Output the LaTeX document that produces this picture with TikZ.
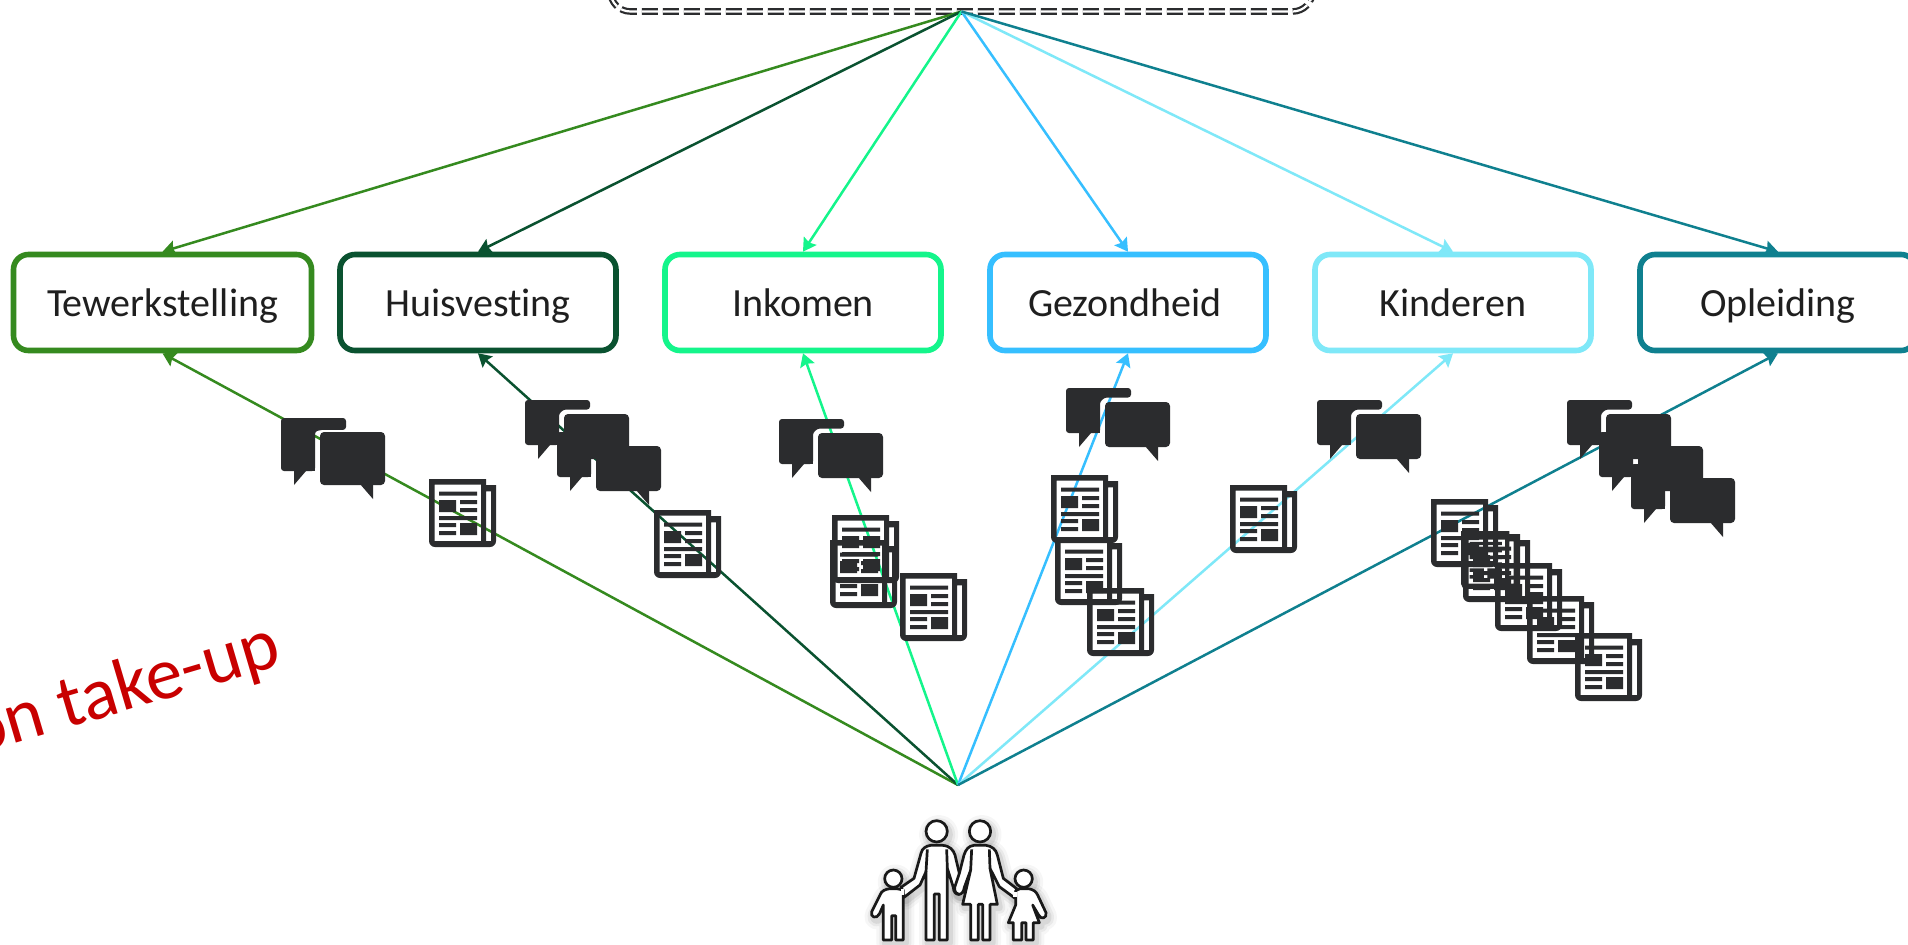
\documentclass[tikz,border=0pt]{standalone}
\usepackage{fontspec}
\setmainfont[Ligatures=NoCommon]{Carlito}
\usetikzlibrary{arrows.meta}
\definecolor{ink}{HTML}{2B2C2E}
\definecolor{cTew}{HTML}{358A1F}
\definecolor{cHuis}{HTML}{0A5230}
\definecolor{cInk}{HTML}{14F58B}
\definecolor{cGez}{HTML}{36BFFF}
\definecolor{cKind}{HTML}{7FE8F8}
\definecolor{cOpl}{HTML}{0F808F}
\definecolor{cRed}{HTML}{C80000}
\tikzset{
  topicbox/.style={draw=#1,line width=2.8pt,rounded corners=7.5pt,fill=white,minimum height=48pt,
    minimum width=138pt,inner sep=0pt,text=black!88,font=\fontsize{20}{24}\selectfont,
    text height=16pt,text depth=2.5pt},
  topline/.style={draw=#1,line width=1.25pt,-{Stealth[length=6.5pt,width=7.5pt,inset=1pt]}},
}
% pair of speech bubbles; the left one has a notch round the right one
\newcommand{\bubblepair}[3]{%
  \begin{scope}[shift={(#1,#2)}]
    \fill[ink,rounded corners=1.5pt] (0,0) -- (65,0) -- (65,{9.5+0.3*(#3-45)}) -- (44,{9.5+0.3*(#3-45)})
       .. controls (38,{9.5+0.3*(#3-45)}) and (34,13) .. (34,19) -- (34,#3) -- (0,#3) -- cycle;
    \fill[ink] (13,#3-1) -- (25,#3-1) -- (25,#3) -- (13,#3+14) -- cycle;
    \fill[ink] (30,#3-3) rectangle (34,#3);
    \fill[ink,rounded corners=2pt] (39,14) rectangle (104,14+#3);
    \fill[ink] (79,13+#3) -- (92,13+#3) -- (92,28+#3) -- cycle;
  \end{scope}}
% newspaper with transparent page
\newcommand{\newsp}[3][1]{%
  \begin{scope}[shift={(#2,#3)},scale=#1]
    \fill[ink,even odd rule] (0,0) -- (57,0) -- (57,6) -- (67,6) -- (67,62)
        .. controls (67,65.3) and (64.3,68) .. (61,68) -- (6,68)
        .. controls (2.7,68) and (0,65.3) .. (0,62) -- cycle
      (5.7,5.7) rectangle (52,62)
      (57,12.3) rectangle (62,62)
      (10,12.7) rectangle (48,16.7)
      (10,21) rectangle (27,33)
      (31,21) rectangle (48,25)
      (31,29) rectangle (48,33)
      (10,37) rectangle (48,41)
      (10,44) rectangle (27,48)
      (10,52) rectangle (27,56)
      (31,44) rectangle (48,56);
  \end{scope}}
\newcommand{\familyoutline}[1]{%
  \path[#1] (290,184) circle[radius=32];
  \path[#1] (420,184) circle[radius=32];
  \path[#1] (160,326) circle[radius=26];
  \path[#1] (551,326) circle[radius=26];
  \path[#1] (258,510) -- (258,305) -- (240,345) -- (192,382) -- (183,352) -- (222,325) -- (243,250)
     .. controls (246,235) and (258,228) .. (272,226) -- (308,226)
     .. controls (330,228) and (340,240) .. (345,255) -- (358,310) -- (368,352)
     .. controls (372,380) and (340,380) .. (340,352) -- (322,295) -- (322,510) -- (298,510)
     -- (298,372) -- (283,372) -- (283,510) -- cycle;
  \path[#1] (392,510) -- (392,403) -- (368,403) -- (392,300) -- (373,352)
     .. controls (370,380) and (342,380) .. (344,352) -- (358,310) -- (372,255)
     .. controls (378,238) and (385,228) .. (402,226) -- (438,226)
     .. controls (455,228) and (468,238) .. (472,255) -- (490,325) -- (530,356) -- (524,384)
     -- (478,350) -- (450,295) -- (472,403) -- (450,403) -- (450,510) -- (428,510)
     -- (428,403) -- (415,403) -- (415,510) -- cycle;
  \path[#1] (130,510) -- (130,405) -- (118,432) .. controls (110,448) and (90,442) .. (95,425)
     -- (120,375) .. controls (125,362) and (135,358) .. (150,356) -- (170,356) -- (190,360)
     -- (190,510) -- (167,510) -- (167,437) -- (155,437) -- (155,510) -- cycle;
  \path[#1] (520,510) -- (520,458) -- (505,458) -- (527,405) -- (527,362) -- (540,356) -- (565,356)
     .. controls (580,358) and (588,365) .. (593,375) -- (618,428)
     .. controls (622,445) and (602,450) .. (596,435) -- (578,405) -- (598,458) -- (580,458)
     -- (580,510) -- (558,510) -- (558,458) -- (545,458) -- (545,510) -- cycle;
}
\begin{document}
\begin{tikzpicture}[x=0.5pt,y=-0.5pt]
\useasboundingbox (0,0) rectangle (1908,944);
\clip (0,0) rectangle (1908,944);
\fill[white] (0,0) rectangle (1908,944);

% top node, mostly beyond the frame
\node[draw=ink,line width=1.1pt,double=white,double distance=1.1pt,dash pattern=on 8pt off 2.5pt,
      rounded corners=10pt,minimum width=351pt,minimum height=30pt,outer sep=0pt,inner sep=0pt]
      (topbox) at (961.5,-18.5) {};

% topic boxes
\node[topicbox=cTew,minimum width=149pt] (tew) at (162.5,302.5) {Tewerkstelling};
\node[topicbox=cHuis] (huis) at (478,302.5) {Huisvesting};
\node[topicbox=cInk] (inko) at (803,302.5) {Inkomen};
\node[topicbox=cGez] (gez) at (1128,302.5) {Gezondheid\hspace*{3pt}};
\node[topicbox=cKind] (kind) at (1453,302.5) {Kinderen};
\node[topicbox=cOpl] (opl) at (1778,302.5) {Opleiding};

\coordinate (famtop) at (958,785);

% connectors
\draw[topline=cTew] (topbox.south) -- (tew.north);
\draw[topline=cHuis] (topbox.south) -- (huis.north);
\draw[topline=cInk] (topbox.south) -- (inko.north);
\draw[topline=cGez] (topbox.south) -- (gez.north);
\draw[topline=cKind] (topbox.south) -- (kind.north);
\draw[topline=cOpl] (topbox.south) -- (opl.north);
\draw[topline=cTew] (famtop) -- (tew.south);
\draw[topline=cHuis] (famtop) -- (huis.south);
\draw[topline=cInk] (famtop) -- (inko.south);
\draw[topline=cGez] (famtop) -- (gez.south);
\draw[topline=cKind] (famtop) -- (kind.south);
\draw[topline=cOpl] (famtop) -- (opl.south);

% speech bubbles
\bubblepair{281}{418}{53}
\bubblepair{525}{400}{45}
\bubblepair{557}{432}{45}
\bubblepair{779}{419}{45}
\bubblepair{1066}{388}{45}
\bubblepair{1317}{400}{45}
\bubblepair{1567}{400}{45}
\bubblepair{1599}{432}{45}
\bubblepair{1631}{464}{45}

% newspapers
\newsp{429}{479}
\newsp{654}{510}
\newsp{832}{515}
\newsp{830}{540}
\newsp{900}{573}
\newsp{1051}{475}
\newsp{1055}{537}
\newsp{1087}{588}
\newsp{1230}{485}
\newsp{1431}{499}
\newsp[0.85]{1461}{531}
\newsp{1463}{534}
\newsp{1495}{563}
\newsp{1527}{596}
\newsp{1575}{633}

% red slanted text
\node[text=cRed,rotate=16.5,anchor=base east,font=\fontsize{37}{44}\selectfont,inner sep=0pt]
  (takeup) at (284,664) {on take-up};

% family
\begin{scope}[shift={(840,770)},scale=1/3]
  \begin{scope}[shift={(6,10)}]
    \familyoutline{draw=black,draw opacity=.035,line width=9pt,line join=round}
    \familyoutline{draw=black,draw opacity=.05,line width=6pt,line join=round}
    \familyoutline{draw=black,draw opacity=.07,line width=3.5pt,line join=round}
  \end{scope}
  \familyoutline{fill=white,draw=black!90,line width=1.35pt,line join=round}
  \draw[black!90,line width=1.35pt] (258,305) -- (262,238) (322,295) -- (320,238)
     (392,300) -- (395,238) (450,295) -- (448,238);
  \draw[white,line width=1.6pt] (187,358) -- (187,376) (525,366) -- (525,380);
\end{scope}
\end{tikzpicture}
\end{document}
